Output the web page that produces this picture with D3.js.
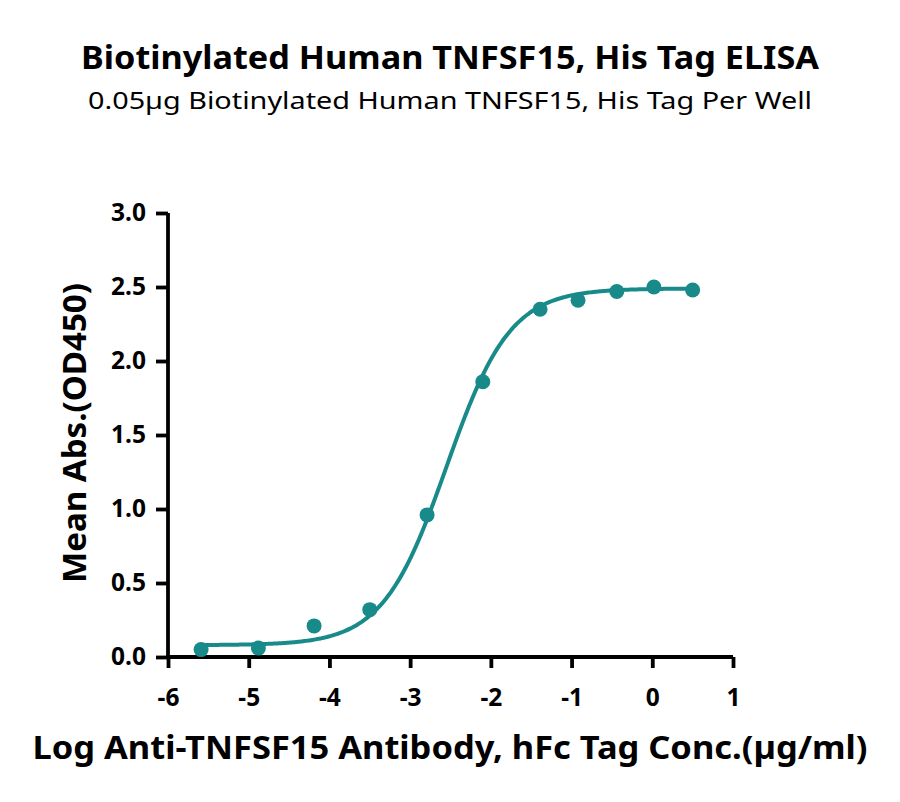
<!DOCTYPE html>
<html>
<head>
<meta charset="utf-8">
<script src="https://cdn.jsdelivr.net/npm/d3@7"></script>
<style>
  body { margin: 0; background: #fff; }
  text { font-family: "Noto Sans", sans-serif; }
</style>
</head>
<body>
<div id="chart"></div>
<script>
// data
var logConc = [-5.59, -4.88, -4.19, -3.5, -2.79, -2.1, -1.39, -0.92, -0.44, 0.02, 0.5];
var meanAbs = [0.05, 0.06, 0.21, 0.32, 0.96, 1.86, 2.35, 2.41, 2.47, 2.50, 2.48];
var xTicks = [-6, -5, -4, -3, -2, -1, 0, 1];
var yTicks = [0, 0.5, 1.0, 1.5, 2.0, 2.5, 3.0];
// 4PL fit parameters (estimated from the drawn curve)
var fitBottom = 0.08, fitTop = 2.49, fitLogEC50 = -2.55, fitHill = 1.1;

var color = "#188a8a";
var W = 900, H = 802;
var margin = { top: 213, right: 167, bottom: 145, left: 168 },
    width = W - margin.left - margin.right,
    height = H - margin.top - margin.bottom;

var svg = d3.select("#chart")
    .append("svg")
    .attr("width", W)
    .attr("height", H);

// titles
svg.append("text")
    .attr("x", 450).attr("y", 69)
    .attr("text-anchor", "middle")
    .style("font-size", "33px").style("font-weight", "bold")
    .attr("textLength", 738).attr("lengthAdjust", "spacingAndGlyphs")
    .text("Biotinylated Human TNFSF15, His Tag ELISA");
svg.append("text")
    .attr("x", 450).attr("y", 109)
    .attr("text-anchor", "middle")
    .style("font-size", "24px")
    .attr("textLength", 724).attr("lengthAdjust", "spacingAndGlyphs")
    .text("0.05\u00b5g Biotinylated Human TNFSF15, His Tag Per Well");

var g = svg.append("g")
    .attr("transform", "translate(" + margin.left + "," + margin.top + ")");

var x = d3.scaleLinear().domain([-6, 1]).range([0, width]);
var y = d3.scaleLinear().domain([0, 3]).range([height, 0]);

// axes
var xAxis = g.append("g")
    .attr("transform", "translate(0," + height + ")")
    .call(d3.axisBottom(x).tickValues(xTicks).tickSize(11).tickPadding(21)
        .tickFormat(function (d) { return String(d); }));
var yAxis = g.append("g")
    .call(d3.axisLeft(y).tickValues(yTicks).tickSize(12).tickPadding(10).tickFormat(d3.format(".1f")));

[xAxis, yAxis].forEach(function (a) {
    a.select(".domain").attr("stroke", "#000").attr("stroke-width", 3.8);
    a.selectAll(".tick line").attr("stroke", "#000").attr("stroke-width", 3.8);
    a.selectAll(".tick text")
        .attr("fill", "#000")
        .style("font-family", "'Noto Sans', sans-serif")
        .style("font-size", "24.5px")
        .style("font-weight", "bold");
});
xAxis.select(".domain").attr("d", "M-1.9,0H" + width);
yAxis.select(".domain").attr("d", "M0," + height + "V0");

// fitted curve
var curveX = d3.range(logConc[0], logConc[logConc.length - 1] + 0.001, 0.02);
var fit = function (v) {
    return fitBottom + (fitTop - fitBottom) / (1 + Math.pow(10, (fitLogEC50 - v) * fitHill));
};
g.append("path")
    .datum(curveX)
    .attr("fill", "none")
    .attr("stroke", color)
    .attr("stroke-width", 4)
    .attr("d", d3.line()
        .curve(d3.curveBasis)
        .x(function (d) { return x(d); })
        .y(function (d) { return y(fit(d)); }));

// points
g.selectAll("circle")
    .data(logConc)
    .enter()
    .append("circle")
    .attr("cx", function (d) { return x(d); })
    .attr("cy", function (d, i) { return y(meanAbs[i]); })
    .attr("r", 7.5)
    .attr("fill", color);

// axis labels
svg.append("text")
    .attr("x", 450).attr("y", 759)
    .attr("text-anchor", "middle")
    .style("font-size", "33px").style("font-weight", "bold")
    .attr("textLength", 835).attr("lengthAdjust", "spacingAndGlyphs")
    .text("Log Anti-TNFSF15 Antibody, hFc Tag Conc.(\u00b5g/ml)");
svg.append("text")
    .attr("transform", "translate(86," + (margin.top + height / 2 - 2) + ") rotate(-90)")
    .attr("text-anchor", "middle")
    .style("font-size", "32px").style("font-weight", "bold")
    .attr("textLength", 300).attr("lengthAdjust", "spacingAndGlyphs")
    .text("Mean Abs.(OD450)");
</script>
</body>
</html>
